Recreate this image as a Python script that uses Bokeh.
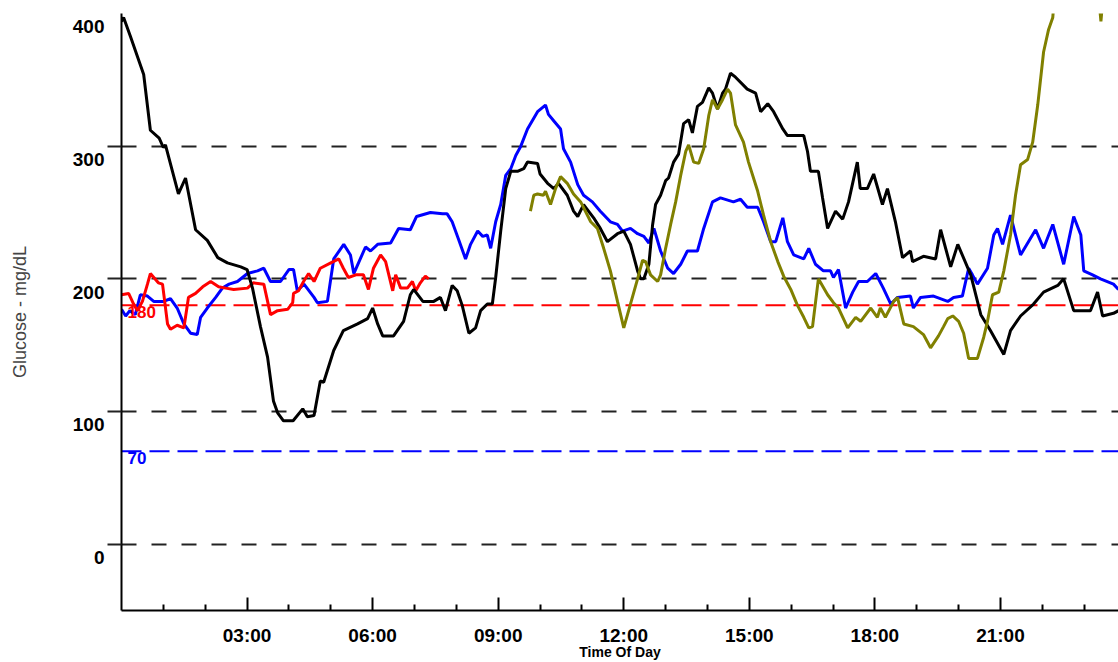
from bokeh.plotting import figure
from bokeh.models import Range1d, LinearAxis, FixedTicker, Span, Label
from bokeh.embed import file_html
from bokeh.resources import INLINE

# ---------------- data (hours of day, mg/dL) ----------------
black_t = [0.0, 0.05, 0.21, 0.53, 0.69, 0.9, 1.0, 1.05, 1.36, 1.53, 1.77, 2.05, 2.3, 2.53, 2.85, 3.0,
           3.13, 3.32, 3.49, 3.63, 3.73, 3.87, 4.1, 4.33, 4.44, 4.6, 4.75, 4.83, 5.07, 5.3, 5.64, 5.88,
           6.0, 6.12, 6.24, 6.5, 6.74, 6.9, 6.98, 7.2, 7.46, 7.62, 7.74, 7.9, 8.02, 8.14, 8.3, 8.46,
           8.58, 8.74, 8.86, 8.94, 9.06, 9.18, 9.3, 9.46, 9.61, 9.7, 9.94, 10.0, 10.18, 10.33, 10.44,
           10.65, 10.8, 10.9, 11.04, 11.28, 11.44, 11.61, 11.85, 12.0, 12.16, 12.33, 12.4, 12.48, 12.6,
           12.69, 12.76, 12.88, 13.0, 13.07, 13.19, 13.31, 13.43, 13.55, 13.64, 13.76, 13.88, 14.03,
           14.12, 14.24, 14.36, 14.43, 14.55, 14.67, 14.95, 15.15, 15.27, 15.44, 15.58, 15.8, 15.91,
           16.3, 16.39, 16.46, 16.65, 16.75, 16.87, 17.06, 17.23, 17.37, 17.58, 17.65, 17.82, 17.97,
           18.18, 18.3, 18.49, 18.66, 18.85, 18.9, 19.16, 19.45, 19.57, 19.81, 19.98, 20.29, 20.53,
           20.76, 21.08, 21.24, 21.48, 21.79, 22.03, 22.37, 22.51, 22.75, 23.15, 23.32, 23.44, 23.7, 23.82]
black_v = [394, 397, 383, 354, 312, 306, 299, 301, 264, 276, 237, 229, 216, 212, 209, 207,
           193, 164, 141, 108, 99, 93, 93, 102, 96, 97, 123, 122, 146, 161, 166, 170,
           178, 166, 157, 157, 168, 188, 192, 183, 183, 186, 176, 195, 191, 180, 159, 163,
           176, 181, 181, 201, 236, 268, 281, 281, 283, 288, 287, 279, 272, 268, 272,
           263, 251, 247, 256, 246, 238, 228, 234, 236, 226, 206, 200, 200, 211,
           241, 256, 263, 274, 276, 288, 294, 317, 320, 310, 330, 333, 344,
           340, 328, 340, 343, 355, 352, 343, 340, 326, 332, 326, 313, 308,
           308, 296, 281, 281, 261, 238, 251, 245, 258, 288, 268, 268, 279,
           256, 268, 243, 216, 221, 213, 217, 215, 237, 209, 226, 203, 173,
           161, 143, 161, 172, 181, 190, 195, 200, 176, 176, 190, 172, 174, 176]

blue_t = [0.0, 0.1, 0.2, 0.33, 0.45, 0.62, 0.77, 1.0, 1.17, 1.33, 1.49, 1.65, 1.81, 1.89, 2.05, 2.25,
          2.41, 2.57, 2.77, 3.01, 3.25, 3.4, 3.56, 3.8, 4.0, 4.11, 4.2, 4.36, 4.6, 4.68, 4.92, 5.07,
          5.31, 5.47, 5.55, 5.83, 5.95, 6.12, 6.43, 6.62, 6.9, 7.05, 7.38, 7.67, 7.78, 7.9, 8.05, 8.22,
          8.34, 8.51, 8.63, 8.74, 8.82, 8.94, 9.06, 9.18, 9.3, 9.42, 9.54, 9.7, 9.94, 10.13, 10.2,
          10.33, 10.49, 10.56, 10.73, 10.9, 11.04, 11.25, 11.44, 11.68, 11.85, 11.97, 12.16, 12.33,
          12.48, 12.6, 12.72, 12.88, 13.05, 13.19, 13.36, 13.52, 13.76, 13.91, 14.12, 14.31, 14.62,
          14.79, 14.95, 15.2, 15.34, 15.51, 15.63, 15.8, 15.91, 16.06, 16.3, 16.42, 16.58, 16.77,
          16.94, 17.01, 17.13, 17.3, 17.47, 17.61, 17.82, 18.02, 18.2, 18.38, 18.54, 18.85, 18.92,
          19.09, 19.4, 19.74, 19.88, 20.09, 20.24, 20.33, 20.45, 20.69, 20.84, 20.93, 21.05, 21.24,
          21.48, 21.84, 22.03, 22.25, 22.51, 22.75, 22.92, 22.99, 23.2, 23.39, 23.7, 23.82]
blue_v = [177, 172, 176, 173, 188, 187, 183, 183, 185, 178, 166, 159, 158, 171, 178, 186,
          193, 196, 198, 204, 206, 208, 198, 198, 207, 207, 191, 196, 186, 182, 183, 215,
          226, 218, 204, 224, 221, 226, 227, 238, 237, 247, 250, 249, 249, 243, 230, 215,
          226, 236, 232, 233, 223, 243, 256, 278, 283, 293, 300, 313, 326, 331, 324,
          319, 313, 298, 288, 271, 263, 258, 251, 243, 241, 236, 238, 234,
          232, 227, 238, 221, 208, 204, 211, 221, 221, 238, 258, 261, 258,
          260, 254, 254, 243, 228, 228, 246, 228, 218, 215, 223, 211, 206,
          206, 201, 207, 178, 190, 198, 198, 204, 193, 181, 186, 187, 178,
          186, 187, 183, 186, 187, 208, 203, 196, 208, 233, 238, 226, 248,
          218, 237, 223, 241, 211, 247, 233, 206, 203, 200, 196, 192]

red_t = [0.0, 0.17, 0.29, 0.38, 0.5, 0.62, 0.69, 0.88, 0.98, 1.1, 1.17, 1.33, 1.49, 1.6, 1.77, 1.94,
         2.13, 2.32, 2.49, 2.68, 3.01, 3.15, 3.4, 3.56, 3.73, 3.97, 4.09, 4.11, 4.23, 4.35, 4.47, 4.6,
         4.75, 5.0, 5.19, 5.3, 5.42, 5.6, 5.78, 5.9, 6.02, 6.19, 6.31, 6.48, 6.55, 6.67, 6.83, 6.95,
         7.03, 7.14, 7.26, 7.34]
red_v = [188, 189, 181, 176, 183, 196, 204, 197, 196, 166, 162, 165, 163, 186, 189, 194,
         198, 194, 193, 192, 193, 197, 196, 173, 176, 177, 182, 189, 191, 198, 204, 198,
         208, 212, 215, 208, 201, 203, 203, 192, 208, 218, 213, 191, 203, 193, 193, 198,
         191, 197, 202, 200]

olive_t = [9.77, 9.85, 9.94, 10.08, 10.13, 10.25, 10.37, 10.49, 10.65, 10.8, 10.97, 11.21, 11.37,
           11.52, 11.68, 11.85, 12.0, 12.16, 12.33, 12.45, 12.52, 12.64, 12.81, 12.88, 13.0, 13.12,
           13.24, 13.36, 13.48, 13.55, 13.67, 13.79, 13.91, 14.03, 14.12, 14.24, 14.36, 14.48, 14.55,
           14.67, 14.86, 14.98, 15.2, 15.34, 15.51, 15.68, 15.82, 15.99, 16.15, 16.3, 16.42, 16.51,
           16.65, 16.87, 17.01, 17.13, 17.35, 17.54, 17.66, 17.9, 18.06, 18.13, 18.25, 18.45, 18.54,
           18.69, 18.92, 19.16, 19.33, 19.52, 19.64, 19.74, 19.86, 20.0, 20.12, 20.24, 20.45, 20.6,
           20.69, 20.81, 20.96, 21.08, 21.24, 21.36, 21.48, 21.65, 21.77, 21.89, 22.03, 22.15, 22.25,
           22.33, 23.30, 23.40, 23.50, 23.82]
olive_v = [251, 263, 264, 263, 266, 256, 268, 277, 272, 264, 258, 243, 238,
           223, 206, 183, 163, 181, 200, 214, 213, 203, 198, 203, 223, 241,
           258, 278, 296, 301, 288, 287, 298, 323, 335, 328, 335, 343, 340,
           316, 303, 288, 266, 248, 228, 213, 202, 192, 180, 171, 163, 164,
           200, 188, 182, 178, 163, 171, 168, 178, 171, 178, 171, 183, 186,
           166, 164, 158, 148, 157, 164, 170, 172, 168, 159, 140, 140, 156,
           168, 188, 190, 206, 233, 263, 286, 290, 303, 331, 371, 388, 397,
           430, 430, 394, 430, 430]

y_grid_ticks = [0, 100, 200, 300]
y_tick_labels = [0, 100, 200, 300, 400]
x_major_ticks = [3, 6, 9, 12, 15, 18, 21]
x_tick_labels = ["03:00", "06:00", "09:00", "12:00", "15:00", "18:00", "21:00"]
x_minor_ticks = [1, 2, 4, 5, 7, 8, 10, 11, 13, 14, 16, 17, 19, 20, 22, 23]
high_limit = 180
low_limit = 70

FONT = "Liberation Sans"
LABEL_SHIFT = 10   # the original prints each y label slightly below its grid line

p = figure(width=1118, height=662, x_range=Range1d(0, 23.82), y_range=Range1d(-50, 400),
           output_backend="svg", toolbar_location=None,
           min_border_left=121, min_border_right=0, min_border_top=13, min_border_bottom=52,
           background_fill_color="white", border_fill_color="white", outline_line_color=None)

p.extra_y_ranges = {"lab": Range1d(-50 + LABEL_SHIFT, 400 + LABEL_SHIFT)}

p.xgrid.visible = False
p.ygrid.ticker = FixedTicker(ticks=y_grid_ticks)
p.ygrid.grid_line_color = "#222222"
p.ygrid.grid_line_dash = "15 15"
p.ygrid.grid_line_width = 2

p.yaxis.visible = False

lab_axis = LinearAxis(y_range_name="lab",
                      ticker=FixedTicker(ticks=y_tick_labels,
                                         minor_ticks=[v + LABEL_SHIFT for v in y_grid_ticks]),
                      axis_line_color="black", axis_line_width=2,
                      major_tick_line_color=None, major_tick_out=14, major_tick_in=0,
                      minor_tick_line_color="#222222", minor_tick_line_width=2,
                      minor_tick_out=14, minor_tick_in=0,
                      major_label_standoff=3,
                      major_label_text_font=FONT, major_label_text_font_size="19px",
                      major_label_text_font_style="bold", major_label_text_color="black",
                      axis_label="Glucose - mg/dL", axis_label_text_font=FONT,
                      axis_label_text_font_size="18px", axis_label_text_font_style="normal",
                      axis_label_text_color="#444444", axis_label_standoff=40)
p.add_layout(lab_axis, "left")

xa = p.xaxis[0]
xa.ticker = FixedTicker(ticks=x_major_ticks, minor_ticks=x_minor_ticks)
xa.major_label_overrides = {t: s for t, s in zip(x_major_ticks, x_tick_labels)}
xa.axis_line_color = "black"
xa.axis_line_width = 2
xa.major_tick_line_color = "black"
xa.major_tick_line_width = 2
xa.major_tick_in = 13
xa.major_tick_out = 0
xa.minor_tick_line_color = "black"
xa.minor_tick_line_width = 2
xa.minor_tick_in = 6
xa.minor_tick_out = 0
xa.major_label_standoff = 14
xa.major_label_text_font = FONT
xa.major_label_text_font_size = "19px"
xa.major_label_text_font_style = "bold"
xa.major_label_text_color = "black"
xa.axis_label = "Time Of Day"
xa.axis_label_text_font = FONT
xa.axis_label_text_font_size = "14px"
xa.axis_label_text_font_style = "bold"
xa.axis_label_text_color = "black"
xa.axis_label_standoff = -5

p.add_layout(Span(location=high_limit, dimension="width", line_color="#ff0000",
                  line_dash="20 8", line_width=2, level="underlay"))
p.add_layout(Span(location=low_limit, dimension="width", line_color="#0000ff",
                  line_dash="20 8", line_width=2, level="underlay"))

p.line(blue_t, blue_v, line_color="#0000ff", line_width=3)
p.line(red_t, red_v, line_color="#ff0000", line_width=3)
p.line(black_t, black_v, line_color="#000000", line_width=3)
p.line(olive_t, olive_v, line_color="#808000", line_width=3)

p.add_layout(Label(x=0, y=high_limit, x_offset=6, y_offset=-1, text=str(high_limit),
                   text_baseline="top", text_color="#ff0000", text_font=FONT,
                   text_font_size="17px", text_font_style="bold"))
p.add_layout(Label(x=0, y=low_limit, x_offset=6, y_offset=-1, text=str(low_limit),
                   text_baseline="top", text_color="#0000ff", text_font=FONT,
                   text_font_size="17px", text_font_style="bold"))

open("out.html", "w").write(file_html(p, INLINE))
